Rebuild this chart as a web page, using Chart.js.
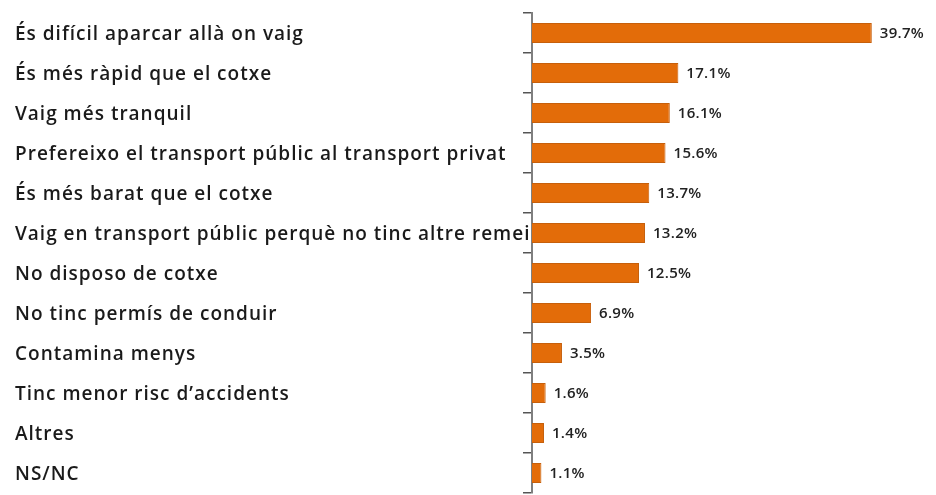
<!DOCTYPE html>
<html>
<head>
<meta charset="utf-8">
<script src="https://cdn.jsdelivr.net/npm/chart.js@4/dist/chart.umd.min.js"></script>
<style>
  html, body { margin: 0; padding: 0; background: #fff; }
  #wrap { width: 936px; height: 495px; position: relative; }
</style>
</head>
<body>
<div id="wrap"><canvas id="motius"></canvas></div>
<script>
// reasons for using public transport, % of answers
var motius = [
    "És difícil aparcar allà on vaig",
    "És més ràpid que el cotxe",
    "Vaig més tranquil",
    "Prefereixo el transport públic al transport privat",
    "És més barat que el cotxe",
    "Vaig en transport públic perquè no tinc altre remei",
    "No disposo de cotxe",
    "No tinc permís de conduir",
    "Contamina menys",
    "Tinc menor risc d\u2019accidents",
    "Altres",
    "NS/NC"
];
var percentatges = [39.7, 17.1, 16.1, 15.6, 13.7, 13.2, 12.5, 6.9, 3.5, 1.6, 1.4, 1.1];

var taronja = "#e36c09";
var fontText = "'Open Sans', sans-serif";

// wider tracking for the category labels only
var espaiat = {
    id: "espaiat",
    beforeDraw: function(chart) { chart.ctx.letterSpacing = "1px"; },
    beforeDatasetsDraw: function(chart) { chart.ctx.letterSpacing = "0px"; }
};

// write the value next to each bar
var etiquetes = {
    id: "etiquetes",
    afterDatasetsDraw: function(chart) {
        var ctx = chart.ctx;
        var meta = chart.getDatasetMeta(0);
        ctx.save();
        ctx.letterSpacing = "0.3px";
        ctx.font = "600 15px " + fontText;
        ctx.fillStyle = "#222";
        ctx.textBaseline = "middle";
        meta.data.forEach(function(bar, i) {
            ctx.fillText(percentatges[i].toFixed(1) + "%", bar.x + 8, bar.y + 1);
        });
        ctx.restore();
    }
};

new Chart(document.getElementById("motius").getContext("2d"), {
    type: "bar",
    data: {
        labels: motius,
        datasets: [{
            data: percentatges,
            backgroundColor: taronja,
            borderColor: "#c65f0b",
            borderWidth: 1,
            categoryPercentage: 1,
            barPercentage: 0.5
        }]
    },
    options: {
        indexAxis: "y",
        responsive: true,
        maintainAspectRatio: false,
        animation: false,
        layout: { padding: { left: 15, top: 13, bottom: 2, right: 0 } },
        plugins: {
            legend: { display: false },
            tooltip: { enabled: false }
        },
        scales: {
            x: {
                display: false,
                min: 0,
                max: 47.2
            },
            y: {
                afterFit: function(scale) {
                    scale.width = 517;
                    scale.paddingTop = 0;
                    scale.paddingBottom = 0;
                },
                border: { display: true, color: "#7f7f7f", width: 2 },
                grid: {
                    offset: true,
                    drawOnChartArea: false,
                    drawTicks: true,
                    tickLength: 9,
                    color: "#555",
                    lineWidth: 1.5
                },
                ticks: {
                    crossAlign: "far",
                    color: "#1a1a1a",
                    padding: 6,
                    labelOffset: 2,
                    font: { family: fontText, size: 19, weight: "600" }
                }
            }
        }
    },
    plugins: [espaiat, etiquetes]
});
</script>
</body>
</html>
